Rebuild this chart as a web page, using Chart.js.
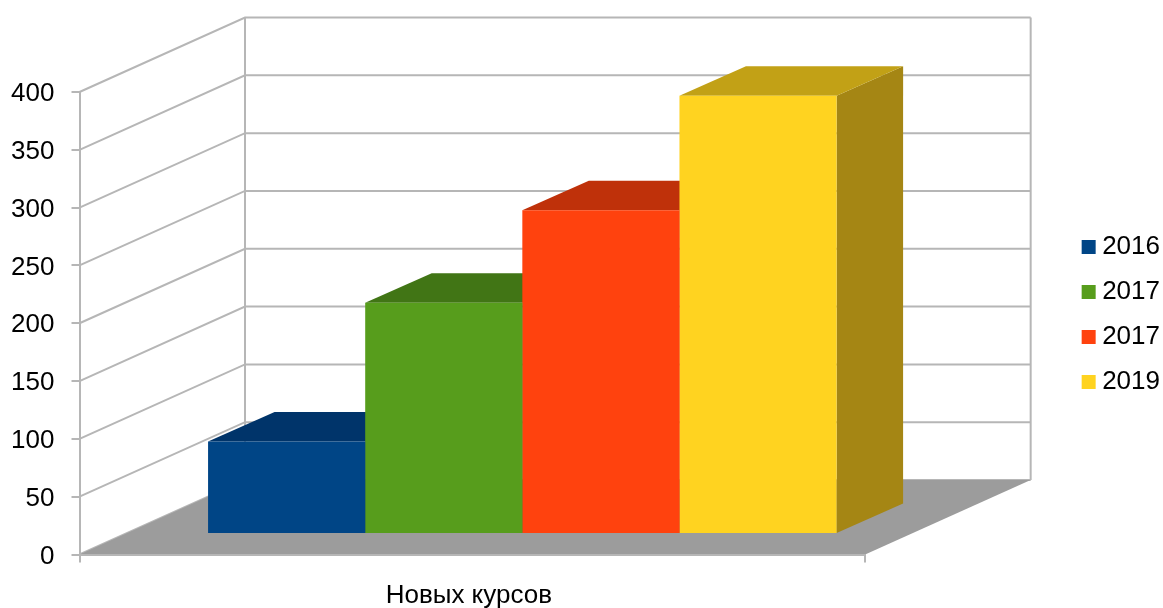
<!DOCTYPE html>
<html>
<head>
<meta charset="utf-8">
<title>Новых курсов</title>
<script src="https://cdn.jsdelivr.net/npm/chart.js@4"></script>
<style>
    html, body { margin: 0; padding: 0; background: #fff; }
    canvas { display: block; }
</style>
</head>
<body>
<canvas id="coursesChart" width="1163" height="608"></canvas>
<script>
const categories = ['Новых курсов'];
const seriesNames = ['2016', '2017', '2017', '2019'];
const values2016 = [80];
const values2017a = [200];
const values2017b = [280];
const values2019 = [379];
const yTicks = [0, 50, 100, 150, 200, 250, 300, 350, 400];

const fronts = ['#004586', '#579d1c', '#ff420e', '#ffd320'];
const tops = ['#00346a', '#417515', '#bf310a', '#c2a116'];
const sides = ['#002d5a', '#386612', '#a62b09', '#a58614'];

const gridColor = '#b6b6b6';
const floorColor = '#9c9c9c';
// offset of the back wall from the front plane
const wallDx = 165.5, wallDy = -74.5;
// where the front face of the bars sits, and how deep the bars are
const barDx = 50, barDy = -20.5;
const depthDx = 66.5, depthDy = -29.5;
// the legend is laid out by the library, then nudged up beside the plot
const legendDx = 7, legendDy = -35.5;

function poly(ctx, color, pts) {
    ctx.fillStyle = color;
    ctx.beginPath();
    pts.forEach((p, i) => i ? ctx.lineTo(p[0], p[1]) : ctx.moveTo(p[0], p[1]));
    ctx.closePath();
    ctx.fill();
}

const fake3d = {
    id: 'fake3d',
    afterLayout(chart) {
        const lg = chart.legend;
        lg.left += legendDx;
        lg.right += legendDx;
        lg.top += legendDy;
        lg.bottom += legendDy;
    },
    // walls and floor
    beforeDraw(chart) {
        const ctx = chart.ctx, a = chart.chartArea, y = chart.scales.y;
        ctx.save();
        ctx.strokeStyle = gridColor;
        ctx.lineWidth = 2;
        y.ticks.forEach(t => {
            const py = y.getPixelForValue(t.value);
            ctx.beginPath();
            ctx.moveTo(a.left, py);
            ctx.lineTo(a.left + wallDx, py + wallDy);
            ctx.lineTo(a.right + wallDx, py + wallDy);
            ctx.stroke();
        });
        ctx.beginPath();
        ctx.moveTo(a.left + wallDx, a.bottom + wallDy);
        ctx.lineTo(a.left + wallDx, a.top + wallDy);
        ctx.moveTo(a.right + wallDx, a.top + wallDy);
        ctx.lineTo(a.right + wallDx, a.bottom + wallDy);
        ctx.stroke();
        poly(ctx, floorColor, [
            [a.left, a.bottom],
            [a.left + wallDx, a.bottom + wallDy],
            [a.right + wallDx, a.bottom + wallDy],
            [a.right, a.bottom]
        ]);
        ctx.restore();
    },
    // tops and sides go first, the real bars are then shifted onto them
    beforeDatasetsDraw(chart) {
        const ctx = chart.ctx;
        ctx.save();
        ctx.translate(barDx, barDy);
        chart.data.datasets.forEach((ds, i) => {
            const bar = chart.getDatasetMeta(i).data[0];
            const l = bar.x - bar.width / 2, r = bar.x + bar.width / 2;
            poly(ctx, sides[i], [
                [r, bar.y], [r + depthDx, bar.y + depthDy],
                [r + depthDx, bar.base + depthDy], [r, bar.base]
            ]);
            poly(ctx, tops[i], [
                [l, bar.y], [l + depthDx, bar.y + depthDy],
                [r + depthDx, bar.y + depthDy], [r, bar.y]
            ]);
        });
    },
    afterDatasetsDraw(chart) {
        chart.ctx.restore();
    }
};

new Chart(document.getElementById('coursesChart').getContext('2d'), {
    type: 'bar',
    data: {
        labels: categories,
        datasets: [
            { label: seriesNames[0], data: values2016, backgroundColor: fronts[0] },
            { label: seriesNames[1], data: values2017a, backgroundColor: fronts[1] },
            { label: seriesNames[2], data: values2017b, backgroundColor: fronts[2] },
            { label: seriesNames[3], data: values2019, backgroundColor: fronts[3] }
        ]
    },
    plugins: [fake3d],
    options: {
        responsive: false,
        animation: false,
        devicePixelRatio: 1,
        categoryPercentage: 0.8,
        barPercentage: 1,
        layout: { padding: { top: 92, right: 0, bottom: 0, left: 0 } },
        plugins: {
            tooltip: { enabled: false },
            legend: {
                position: 'right',
                labels: {
                    usePointStyle: true,
                    pointStyle: 'rect',
                    boxWidth: 1,
                    boxHeight: 14,
                    padding: 19,
                    color: '#000',
                    font: { family: '"Liberation Sans", Arial, sans-serif', size: 26 }
                }
            }
        },
        scales: {
            x: {
                afterFit(s) { s.height = 53.5; },
                grid: { drawOnChartArea: false, color: gridColor, lineWidth: 2, tickLength: 8 },
                border: { color: gridColor, width: 2 },
                ticks: {
                    color: '#000',
                    padding: 18,
                    labelOffset: -3.5,
                    font: { family: '"Liberation Sans", Arial, sans-serif', size: 26 }
                }
            },
            y: {
                min: 0,
                max: 400,
                afterFit(s) { s.width = 79.5; },
                afterBuildTicks(s) { s.ticks = yTicks.map(v => ({ value: v })); },
                grid: { drawOnChartArea: false, color: gridColor, lineWidth: 2, tickLength: 8 },
                border: { color: gridColor, width: 2 },
                ticks: {
                    color: '#000',
                    padding: 17,
                    labelOffset: 2,
                    font: { family: '"Liberation Sans", Arial, sans-serif', size: 26 }
                }
            },
            // empty axis, keeps the room for the wall depth between plot and legend
            depthRoom: {
                position: 'right',
                afterFit(s) { s.width = 197; },
                grid: { display: false },
                border: { display: false },
                ticks: { display: false }
            }
        }
    }
});
</script>
</body>
</html>
